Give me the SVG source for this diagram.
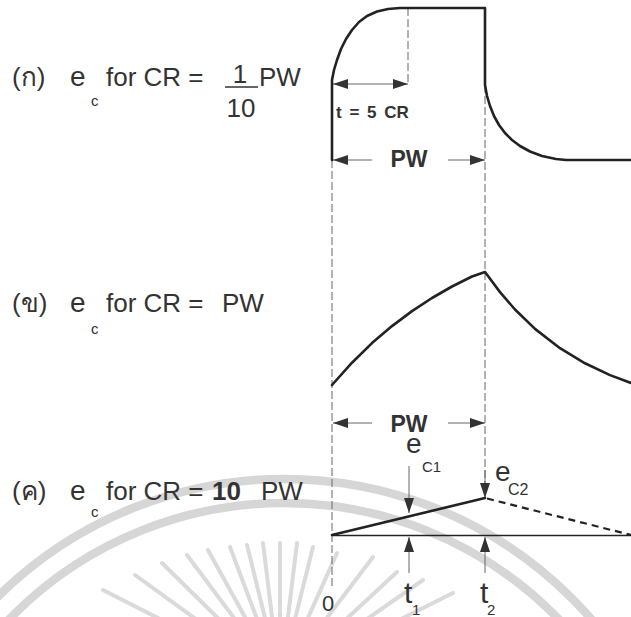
<svg xmlns="http://www.w3.org/2000/svg" width="631" height="617" viewBox="0 0 631 617">
<style>
  text { font-family: "Liberation Sans", "DejaVu Sans", "Noto Sans", sans-serif; fill: #333; }
  .lbl { font-size: 26px; }
  .e { font-size: 28px; }
  .sub { font-size: 15px; }
  .bold { font-weight: bold; }
  .wave { fill: none; stroke: #222; stroke-width: 2.6; stroke-linejoin: round; stroke-linecap: round; }
  .guide { fill: none; stroke: #666; stroke-width: 1; stroke-dasharray: 8 3; }
  .dim { fill: none; stroke: #666; stroke-width: 1; }
  .wm { fill: none; stroke: #d6d6d6; stroke-width: 8.5; }
  .ray { stroke: #dadada; stroke-width: 4; stroke-linecap: round; }
</style>
<defs>
  <marker id="ah" markerUnits="userSpaceOnUse" markerWidth="15" markerHeight="10" refX="15" refY="5" orient="auto">
    <path d="M0,0 L15,5 L0,10 z" fill="#333"/>
  </marker>
</defs>

<g id="watermark">
  <circle class="wm" cx="284" cy="886" r="407"/>
  <circle class="wm" cx="284" cy="886" r="383"/>
  <g class="ray">
    <line x1="280" y1="543" x2="280" y2="625"/>
    <line x1="263" y1="543" x2="273" y2="625"/>
    <line x1="247" y1="545" x2="267" y2="626"/>
    <line x1="230" y1="547" x2="260" y2="627"/>
    <line x1="208" y1="550" x2="251" y2="628"/>
    <line x1="187" y1="555" x2="243" y2="630"/>
    <line x1="162" y1="563" x2="233" y2="633"/>
    <line x1="135" y1="575" x2="222" y2="638"/>
    <line x1="103" y1="590" x2="209" y2="644"/>
    <line x1="297" y1="543" x2="287" y2="625"/>
    <line x1="313" y1="547" x2="293" y2="627"/>
    <line x1="337" y1="553" x2="303" y2="629"/>
    <line x1="373" y1="557" x2="317" y2="631"/>
    <line x1="397" y1="572" x2="327" y2="637"/>
    <line x1="423" y1="580" x2="337" y2="640"/>
    <line x1="453" y1="593" x2="349" y2="645"/>
  </g>
</g>

<g id="labels">
  <g id="label-a">
    <text class="lbl" x="12" y="86">(ก)</text>
    <text class="e" x="70" y="86">e</text>
    <text class="sub" x="91" y="106">c</text>
    <text class="lbl" x="106" y="86">for CR =</text>
    <text class="lbl" x="240" y="83" text-anchor="middle">1</text>
    <line x1="225" y1="87" x2="258" y2="87" stroke="#333" stroke-width="1.6"/>
    <text class="lbl" x="241" y="117" text-anchor="middle">10</text>
    <text class="lbl" x="259" y="86">PW</text>
  </g>
  <g id="label-b">
    <text class="lbl" x="12" y="312">(ข)</text>
    <text class="e" x="70" y="312">e</text>
    <text class="sub" x="91" y="334">c</text>
    <text class="lbl" x="106" y="312">for CR =</text>
    <text class="lbl" x="222" y="312">PW</text>
  </g>
  <g id="label-c">
    <text class="lbl" x="12" y="500">(ค)</text>
    <text class="e" x="70" y="500">e</text>
    <text class="sub" x="91" y="517">c</text>
    <text class="lbl" x="106" y="500">for CR =</text>
    <text class="lbl bold" x="212" y="500">10</text>
    <text class="lbl" x="261" y="500">PW</text>
  </g>
</g>

<g id="connectors">
  <line class="guide" x1="332" y1="160" x2="332" y2="588"/>
  <line class="guide" x1="485" y1="85" x2="485" y2="483"/>
  <line class="guide" x1="408" y1="8" x2="408" y2="84"/>
  <line class="dim" x1="370" y1="84" x2="333" y2="84" marker-end="url(#ah)"/>
  <line class="dim" x1="370" y1="84" x2="408" y2="84" marker-end="url(#ah)"/>
  <line class="dim" x1="372" y1="160" x2="333" y2="160" marker-end="url(#ah)"/>
  <line class="dim" x1="448" y1="160" x2="485" y2="160" marker-end="url(#ah)"/>
  <line class="dim" x1="372" y1="423" x2="333" y2="423" marker-end="url(#ah)"/>
  <line class="dim" x1="448" y1="423" x2="485" y2="423" marker-end="url(#ah)"/>
  <line class="dim" x1="409" y1="466" x2="409" y2="513" marker-end="url(#ah)"/>
  <line class="dim" x1="485" y1="470" x2="485" y2="498" marker-end="url(#ah)"/>
  <line class="dim" x1="409" y1="573" x2="409" y2="537" marker-end="url(#ah)"/>
  <line class="dim" x1="485" y1="573" x2="485" y2="537" marker-end="url(#ah)"/>
</g>

<g id="wave-a">
  <polyline class="wave" points="332,160 332,80 334,70 337,60 341,49 346,39 352,30 359,22 367,16 377,11.5 388,9 400,8 485,8 485,85 487,96 490,106 494,116 499,125 505,133 512,140 520,146 530,151.5 542,156 556,159 566,160 631,160"/>
  <text class="bold" x="336" y="118" font-size="17" word-spacing="3" fill="#222">t = 5 CR</text>
  <text class="bold" x="409" y="167" font-size="23" text-anchor="middle" fill="#222">PW</text>
</g>

<g id="wave-b">
  <polyline class="wave" points="332,385 352,362.7 372,343.1 392,326.1 412,311.1 432,298 452,286.5 472,276.5 485,272 500,292.1 515,309.5 535,328.9 560,348.2 585,363.3 610,375.1 631,383"/>
</g>

<g id="wave-c">
  <line x1="332" y1="535.5" x2="631" y2="535.5" stroke="#222" stroke-width="1.6"/>
  <line class="wave" x1="332" y1="535" x2="485" y2="498"/>
  <line x1="487" y1="498.5" x2="631" y2="535" stroke="#222" stroke-width="2.2" stroke-dasharray="7 5"/>
  <text class="bold" x="409" y="432" font-size="23" text-anchor="middle" fill="#222">PW</text>
  <text class="e" x="406" y="453">e</text>
  <text x="422" y="472" font-size="15">C1</text>
  <text class="e" x="495" y="481">e</text>
  <text x="508" y="495" font-size="16">C2</text>
  <text x="322" y="611" font-size="22">0</text>
  <text x="404" y="603" font-size="30">t</text>
  <text x="412" y="615" font-size="15">1</text>
  <text x="480" y="603" font-size="30">t</text>
  <text x="487" y="615" font-size="15">2</text>
</g>
</svg>
